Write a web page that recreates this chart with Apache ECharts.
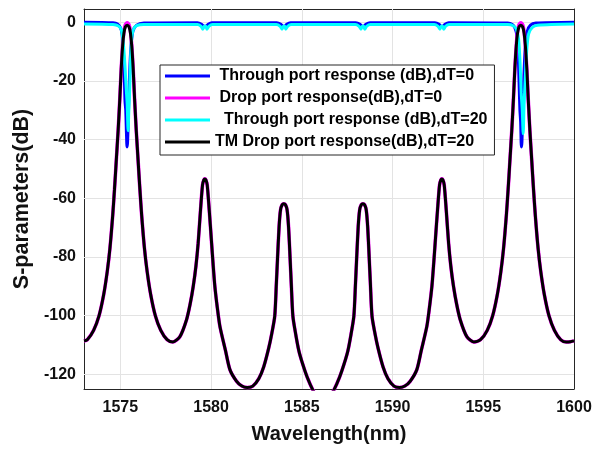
<!DOCTYPE html>
<html><head><meta charset="utf-8">
<script src="https://cdn.jsdelivr.net/npm/echarts@6/dist/echarts.min.js"></script>
<style>html,body{margin:0;padding:0;background:#fff}#c{width:605px;height:449px}</style>
</head><body><div id="c"></div>
<script>
// ---- data ----
const xTicks = [1575, 1580, 1585, 1590, 1595, 1600];
const yTicks = [-120, -100, -80, -60, -40, -20, 0];
const xGrid = [1575, 1580, 1585, 1590, 1595];
const yGrid = [-120, -100, -80, -60, -40, -20, 0];

const seriesNames = [
  'Through port response (dB),dT=0',
  'Drop port response(dB),dT=0',
  'Through port response (dB),dT=20',
  'TM Drop port response(dB),dT=20'
];

// Drop port (wavelength nm)
const dropWl = [
 1573.00,1573.18,1573.53,1573.83,1574.08,1574.28,1574.43,1574.58,1574.68,1574.78,1574.88,1574.97,1575.05,1575.13,1575.20,1575.28,1575.38,
 1575.48,1575.56,1575.63,1575.71,1575.79,1575.88,1575.98,1576.08,1576.18,1576.33,1576.48,1576.68,1576.93,1577.23,1577.58,1577.90,
 1578.29,1578.65,1578.85,1579.02,1579.17,1579.29,1579.42,1579.53,1579.60,1579.66,1579.72,1579.79,1579.90,1580.03,1580.12,1580.21,
 1580.35,1580.49,1580.80,1581.04,1581.40,1581.70,1582.00,1582.30,1582.63,1582.90,1583.18,1583.35,1583.51,1583.60,1583.66,1583.75,
 1583.83,1583.92,1584.01,1584.10,1584.19,1584.27,1584.36,1584.42,1584.51,1584.67,1584.84,1585.05,1585.30,1585.60,1585.90,1586.20,
 1586.48,1586.78,1587.08,1587.33,1587.54,1587.71,1587.87,1587.96,1588.02,1588.11,1588.19,1588.28,1588.37,1588.46,1588.55,1588.63,
 1588.72,1588.78,1588.87,1589.03,1589.20,1589.48,1589.75,1590.08,1590.38,1590.68,1590.98,1591.34,1591.58,1591.89,1592.03,1592.17,
 1592.26,1592.35,1592.48,1592.59,1592.66,1592.72,1592.78,1592.85,1592.96,1593.09,1593.21,1593.36,1593.53,1593.73,1594.09,1594.48,
 1594.85,1595.22,1595.52,1595.77,1595.97,1596.12,1596.27,1596.37,1596.47,1596.57,1596.66,1596.74,1596.82,1596.89,1596.97,1597.07,
 1597.17,1597.25,1597.32,1597.40,1597.48,1597.57,1597.67,1597.77,1597.87,1598.02,1598.17,1598.37,1598.62,1598.92,1599.27,1599.57,
 1599.80,1600.00
];
// Drop port response (dB), dT=20 (black)
const dropDT20 = [
 -108.6,-108.2,-105,-100,-93,-85,-77,-66,-57,-47,-37,-26.5,-16,-8,-3.7,-1.6,-1,
 -1.6,-3.7,-8,-16,-26.5,-37,-47,-57,-66,-77,-85,-93,-100,-105,-108.2,-109,
 -107.1,-101.4,-96,-90,-83,-75.3,-64,-55.5,-53.8,-53.4,-53.8,-55.5,-64,-75.2,-83,-90,
 -97.5,-103.7,-112,-118.4,-122.3,-124,-124.5,-124,-121.5,-117.5,-111,-106,-100.2,-89,-81,-69.6,
 -63.9,-62.2,-61.9,-62.2,-63.9,-69.6,-81,-89,-100.2,-106.5,-112,-116.5,-121,-125.2,-128,-129,
 -128,-125.2,-121,-116.5,-112,-106.5,-100.2,-89,-81,-69.6,-63.9,-62.2,-61.9,-62.2,-63.9,-69.6,
 -81,-89,-100.2,-106,-111,-117.5,-121.5,-124,-124.5,-124,-122.3,-118.4,-112,-103.7,-97.5,-90,
 -83,-75.2,-64,-55.5,-53.8,-53.4,-53.8,-55.5,-64,-75.3,-83,-90,-96,-101.4,-107.1,-109,
 -108.2,-105,-100,-93,-85,-77,-66,-57,-47,-37,-26.5,-16,-8,-3.7,-1.6,-1,
 -1.6,-3.7,-8,-16,-26.5,-37,-47,-57,-66,-77,-85,-93,-100,-105,-108.2,-109,
 -108.9,-108.6
];
// Drop port response (dB), dT=0 (magenta) - practically coincident with dT=20
const dropDT0 = [
 -108.6,-108.2,-105,-100,-93,-85,-77,-66,-57,-47,-37,-26.5,-16,-8,-3.2,-0.8,-0.2,
 -0.8,-3.2,-8,-16,-26.5,-37,-47,-57,-66,-77,-85,-93,-100,-105,-108.2,-109,
 -107.1,-101.4,-96,-90,-83,-75.3,-64,-55.5,-53.8,-53.4,-53.8,-55.5,-64,-75.2,-83,-90,
 -97.5,-103.7,-112,-118.4,-122.3,-124,-124.5,-124,-121.5,-117.5,-111,-106,-100.2,-89,-81,-69.6,
 -63.9,-62.2,-61.9,-62.2,-63.9,-69.6,-81,-89,-100.2,-106.5,-112,-116.5,-121,-125.2,-128,-129,
 -128,-125.2,-121,-116.5,-112,-106.5,-100.2,-89,-81,-69.6,-63.9,-62.2,-61.9,-62.2,-63.9,-69.6,
 -81,-89,-100.2,-106,-111,-117.5,-121.5,-124,-124.5,-124,-122.3,-118.4,-112,-103.7,-97.5,-90,
 -83,-75.2,-64,-55.5,-53.8,-53.4,-53.8,-55.5,-64,-75.3,-83,-90,-96,-101.4,-107.1,-109,
 -108.2,-105,-100,-93,-85,-77,-66,-57,-47,-37,-26.5,-16,-8,-3.2,-0.8,-0.2,
 -0.8,-3.2,-8,-16,-26.5,-37,-47,-57,-66,-77,-85,-93,-100,-105,-108.2,-109,
 -108.9,-108.6
];

// Through port, dT=0 (blue)
const thrWl0 = [
 1573.0,1574.6,1574.85,1575.0,1575.1,1575.17,1575.22,1575.26,1575.30,1575.34,1575.37,1575.40,1575.44,1575.50,1575.58,1575.70,1575.90,1576.30,
 1579.25,1579.48,1579.60,1579.72,1579.84,1580.05,
 1583.62,1583.85,1583.96,1584.06,1584.17,1584.38,
 1587.98,1588.21,1588.32,1588.42,1588.53,1588.76,
 1592.34,1592.57,1592.67,1592.77,1592.89,1593.10,
 1596.35,1596.60,1596.75,1596.85,1596.93,1596.98,1597.02,1597.06,1597.10,1597.13,1597.17,1597.23,1597.31,1597.43,1597.60,1597.90,1600.0
];
const thrDT0 = [
 0,-0.2,-0.6,-1.8,-4,-10,-18,-27,-30,-38,-42.5,-41,-33,-20,-9,-3,-1,-0.3,
 -0.2,-0.7,-1.4,-1.4,-0.7,-0.2,
 -0.2,-0.7,-1.4,-1.4,-0.7,-0.2,
 -0.2,-0.7,-1.4,-1.4,-0.7,-0.2,
 -0.2,-0.7,-1.4,-1.4,-0.7,-0.2,
 -0.3,-0.8,-2,-4.5,-12,-22,-30,-34,-42.5,-41,-32,-20,-9,-3,-1,-0.3,0
];

// Through port, dT=20 (cyan)
const thrWl20 = [
 1573.0,1574.6,1574.9,1575.05,1575.15,1575.25,1575.32,1575.38,1575.43,1575.47,1575.51,1575.56,1575.62,1575.72,1575.90,1576.30,
 1579.25,1579.45,1579.55,1579.63,1579.70,1579.78,1579.88,1580.08,
 1583.60,1583.81,1583.91,1583.98,1584.05,1584.12,1584.22,1584.42,
 1587.95,1588.16,1588.26,1588.33,1588.40,1588.47,1588.57,1588.78,
 1592.30,1592.51,1592.61,1592.68,1592.75,1592.82,1592.92,1593.13,
 1596.35,1596.65,1596.83,1596.95,1597.03,1597.09,1597.15,1597.20,1597.25,1597.31,1597.39,1597.50,1597.70,1598.00,1600.0
];
const thrDT20 = [
 -0.6,-0.8,-1.3,-2.5,-6,-14,-22,-28,-37,-30,-24,-14,-6,-2.5,-1.2,-0.8,
 -0.8,-1.4,-2.4,-1.4,-1.3,-2.4,-1.4,-0.8,
 -0.8,-1.4,-2.4,-1.4,-1.3,-2.4,-1.4,-0.8,
 -0.8,-1.4,-2.4,-1.4,-1.3,-2.4,-1.4,-0.8,
 -0.8,-1.4,-2.4,-1.4,-1.3,-2.4,-1.4,-0.8,
 -0.8,-1.2,-2.5,-6,-14,-24,-30,-38,-28,-20,-10,-4,-1.8,-1,-0.6
];

// ---- chart ----
const FONT = '"Liberation Sans", Arial, Helvetica, sans-serif';
const pairs = (xs, ys) => xs.map((x, i) => [x, ys[i]]);
const colors = ['#0000ff', '#ff00ff', '#00ffff', '#000000'];
const dataSets = [pairs(thrWl0, thrDT0), pairs(dropWl, dropDT0), pairs(thrWl20, thrDT20), pairs(dropWl, dropDT20)];
const legendPad = [' ', ' ', '  ', ''];

const chart = echarts.init(document.getElementById('c'), null, {renderer: 'canvas'});
const tickStyle = {show: true, inside: true, length: 5, lineStyle: {color: '#262626', width: 1}};
const axisLineStyle = {show: true, onZero: false, lineStyle: {color: '#262626', width: 1}};

const gridSeries = {
  type: 'line', name: '__grid', data: [], z: 1, silent: true,
  markLine: {
    silent: true, symbol: ['none', 'none'], animation: false, z: 1,
    label: {show: false},
    lineStyle: {type: 'solid', color: '#e3e3e3', width: 1},
    emphasis: {disabled: true},
    data: xGrid.map(v => ({xAxis: v})).concat(yGrid.map(v => ({yAxis: v})))
  }
};

chart.setOption({
  animation: false,
  backgroundColor: '#fff',
  grid: {left: 84, right: 31, top: 9, bottom: 58, containLabel: false},
  xAxis: [{
    type: 'value', min: 1573, max: 1600, position: 'bottom',
    axisLine: axisLineStyle,
    axisTick: Object.assign({customValues: xTicks}, tickStyle),
    axisLabel: {customValues: xTicks, formatter: v => String(v), color: '#111', fontSize: 16, fontWeight: 'bold', fontFamily: FONT, margin: 11},
    splitLine: {show: false},
    name: 'Wavelength(nm)', nameLocation: 'middle', nameGap: 35,
    nameTextStyle: {color: '#111', fontSize: 20, fontWeight: 'bold', fontFamily: FONT}
  }, {
    type: 'value', min: 1573, max: 1600, position: 'top',
    axisLine: axisLineStyle,
    axisTick: Object.assign({customValues: xTicks}, tickStyle),
    axisLabel: {show: false}, splitLine: {show: false}
  }],
  yAxis: [{
    type: 'value', min: -125, max: 4.5, position: 'left',
    axisLine: axisLineStyle,
    axisTick: Object.assign({customValues: yTicks}, tickStyle),
    axisLabel: {customValues: yTicks, formatter: v => String(v), color: '#111', fontSize: 16, fontWeight: 'bold', fontFamily: FONT, margin: 8},
    splitLine: {show: false},
    name: 'S-parameters(dB)', nameLocation: 'middle', nameGap: 43, nameRotate: 90,
    nameTextStyle: {color: '#111', fontSize: 21.5, fontWeight: 'bold', fontFamily: FONT}
  }, {
    type: 'value', min: -125, max: 4.5, position: 'right',
    axisLine: axisLineStyle,
    axisTick: Object.assign({customValues: yTicks}, tickStyle),
    axisLabel: {show: false}, splitLine: {show: false}
  }],
  legend: {
    show: true, orient: 'vertical', left: 160, top: 65, z: 10,
    backgroundColor: '#fff', borderColor: '#262626', borderWidth: 1, borderRadius: 0,
    padding: [3, 7, 5, 5], itemGap: 6, itemWidth: 45, itemHeight: 3, icon: 'rect',
    data: seriesNames,
    formatter: name => legendPad[seriesNames.indexOf(name)] + name,
    textStyle: {color: '#000', fontSize: 16, fontWeight: 'bold', fontFamily: FONT}
  },
  series: [gridSeries].concat(seriesNames.map((n, i) => ({
    name: n, type: 'line', data: dataSets[i], xAxisIndex: 0, yAxisIndex: 0, z: 2,
    showSymbol: false, symbol: 'none', smooth: 0.25, clip: true,
    color: colors[i],
    lineStyle: {color: colors[i], width: i === 1 ? 3.6 : 3},
    emphasis: {disabled: true}
  })))
});
</script></body></html>
